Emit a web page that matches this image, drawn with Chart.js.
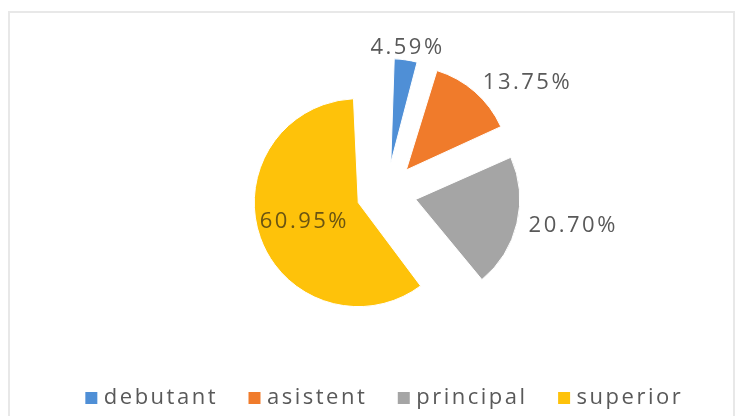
<!DOCTYPE html>
<html>
<head>
<meta charset="utf-8">
<script src="https://cdn.jsdelivr.net/npm/chart.js@4.4.1/dist/chart.umd.min.js"></script>
<style>
  html, body { margin: 0; padding: 0; background: #fff; }
  #wrap { position: relative; width: 745px; height: 416px; overflow: hidden; }
  #frame { position: absolute; left: 8px; top: 11px; width: 723px; height: 420px; border: 2px solid #e8e8e8; }
  #myChart { position: absolute; left: 0; top: 0; }
</style>
</head>
<body>
<div id="wrap">
  <div id="frame"></div>
  <canvas id="myChart" width="745" height="416"></canvas>
</div>
<script>
// categories and their share (percent)
var categories = ["debutant", "asistent", "principal", "superior"];
var shares = [4.59, 13.75, 20.70, 60.95];
var sliceColors = ['#4f8fd6', '#f07b2b', '#a5a5a5', '#fec20a'];

// how far each slice is pulled out of the pie (px)
var explode = 30;
var pieRadius = 104;
var spacingText = '2.5px';
var fontFamily = "'Open Sans', sans-serif";

// chart.js moves an arc by offset/4 and also grows its radius, undo the growth
var evenRadius = {
  id: 'evenRadius',
  afterDatasetsUpdate: function(chart) {
    var meta = chart.getDatasetMeta(0);
    meta.data.forEach(function(arc) {
      var fix = 1 - Math.sin(Math.min(Math.PI, arc.circumference));
      arc.outerRadius = arc.outerRadius - explode * fix;
    });
  }
};

// wider letters like the original picture
var letterGap = {
  id: 'letterGap',
  beforeLayout: function(chart) { chart.ctx.letterSpacing = spacingText; },
  beforeDraw: function(chart) { chart.ctx.letterSpacing = spacingText; }
};

// percent labels, outside for small slices and inside for the big one
var pctLabels = {
  id: 'pctLabels',
  afterDatasetsDraw: function(chart) {
    var ctx = chart.ctx;
    var meta = chart.getDatasetMeta(0);
    var r = meta.controller.outerRadius;
    var total = shares.reduce(function(a, b) { return a + b; }, 0);
    meta.data.forEach(function(arc, i) {
      var p = arc.getProps(['x', 'y', 'startAngle', 'endAngle']);
      var mid = (p.startAngle + p.endAngle) / 2;
      var c = Math.cos(mid), s = Math.sin(mid);
      var cx = p.x + c * explode;
      var cy = p.y + s * explode;
      var txt = shares[i].toFixed(2) + '%';
      ctx.save();
      ctx.letterSpacing = spacingText;
      ctx.font = '22px ' + fontFamily;
      ctx.textBaseline = 'middle';
      if (shares[i] / total > 0.3) {
        ctx.fillStyle = '#6a5412';
        ctx.textAlign = 'center';
        ctx.fillText(txt, cx + c * r * 0.55, cy + s * r * 0.55);
      } else {
        var d = r + 12;
        ctx.fillStyle = '#595959';
        ctx.textAlign = Math.abs(c) < 0.3 ? 'center' : (c > 0 ? 'left' : 'right');
        ctx.fillText(txt, cx + c * d, cy + s * d);
      }
      ctx.restore();
    });
  }
};

var ctx = document.getElementById('myChart').getContext('2d');
var chart = new Chart(ctx, {
  type: 'pie',
  data: {
    labels: categories,
    datasets: [{
      data: shares,
      backgroundColor: sliceColors,
      borderColor: '#ffffff',
      borderWidth: 1,
      offset: explode * 4,
      radius: pieRadius
    }]
  },
  options: {
    responsive: false,
    animation: false,
    layout: {
      padding: { left: 44, right: 16, top: 33, bottom: -3 }
    },
    plugins: {
      tooltip: { enabled: false },
      legend: {
        position: 'bottom',
        align: 'center',
        labels: {
          boxWidth: 3,
          boxHeight: 3,
          padding: 35,
          color: '#595959',
          font: { family: fontFamily, size: 22 },
          generateLabels: function(chart) {
            var items = Chart.overrides.doughnut.plugins.legend.labels.generateLabels(chart);
            items.forEach(function(it) {
              it.lineWidth = 9;
              it.strokeStyle = it.fillStyle;
            });
            return items;
          }
        }
      }
    }
  },
  plugins: [evenRadius, letterGap, pctLabels]
});
</script>
</body>
</html>
